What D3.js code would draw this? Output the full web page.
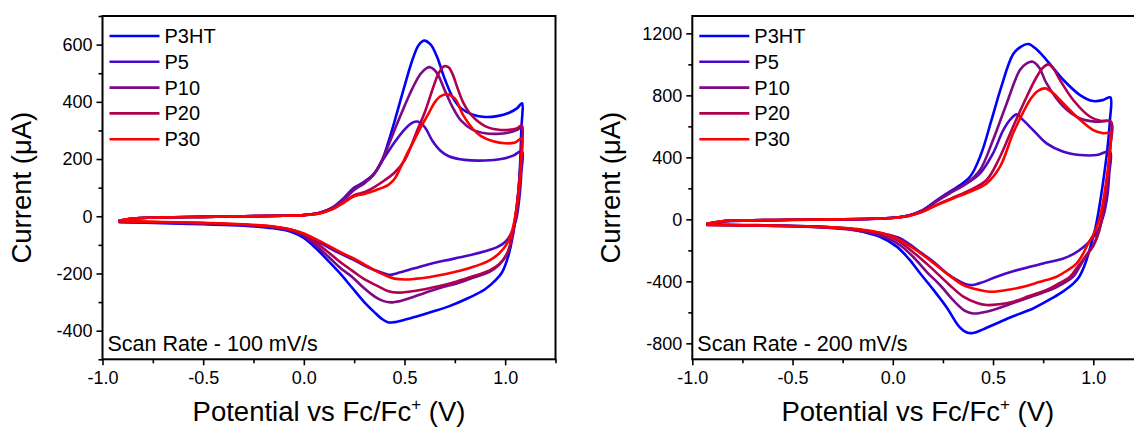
<!DOCTYPE html>
<html>
<head>
<meta charset="utf-8">
<script src="https://cdn.jsdelivr.net/npm/d3@7"></script>
<style>
  html, body { margin: 0; padding: 0; background: #ffffff; }
  svg { display: block; }
  text { font-family: "Liberation Sans", Arial, sans-serif; fill: #000; }
</style>
</head>
<body>
<svg id="chart" width="1134" height="428"></svg>
<script>
// ---------------- DATA ----------------
const seriesNames = ["P3HT", "P5", "P10", "P20", "P30"];
const scanRates = ["Scan Rate - 100 mV/s", "Scan Rate - 200 mV/s"];
const xTicks = [-1.0, -0.5, 0.0, 0.5, 1.0];
const yTicks100 = [-400, -200, 0, 200, 400, 600];
const yTicks200 = [-800, -400, 0, 400, 800, 1200];

// Scan rate 100 mV/s : [potential V, current uA], forward then reverse
const p3ht100 = [[-0.92,-18],[-0.85,-8],[-0.7,-4],[-0.5,-2],[-0.3,0],[-0.1,2],[0.0,4],[0.08,12],[0.14,28],[0.2,60],[0.25,95],[0.3,120],[0.34,140],[0.385,190],[0.42,260],[0.46,355],[0.5,455],[0.54,548],[0.57,598],[0.597,614],[0.63,600],[0.66,560],[0.7,480],[0.74,415],[0.78,378],[0.84,355],[0.9,347],[0.96,350],[1.02,362],[1.06,378],[1.083,395],
  [1.08,300],[1.072,150],[1.06,40],[1.04,-60],[1.015,-140],[0.985,-195],[0.95,-225],[0.9,-255],[0.82,-285],[0.72,-315],[0.64,-333],[0.56,-350],[0.5,-362],[0.45,-370],[0.42,-371],[0.39,-360],[0.35,-335],[0.3,-300],[0.24,-250],[0.18,-200],[0.12,-155],[0.06,-112],[0.0,-76],[-0.06,-55],[-0.15,-42],[-0.3,-33],[-0.5,-28],[-0.7,-24],[-0.92,-21]];
const p5_100 = [[-0.92,-17],[-0.85,-8],[-0.7,-4],[-0.5,-2],[-0.3,0],[-0.1,2],[0.0,4],[0.08,12],[0.14,30],[0.2,65],[0.25,100],[0.3,120],[0.35,150],[0.4,205],[0.45,258],[0.5,303],[0.54,327],[0.565,331],[0.6,312],[0.64,262],[0.68,228],[0.72,210],[0.8,197],[0.9,195],[0.98,200],[1.04,212],[1.083,228],
  [1.08,150],[1.07,60],[1.055,-10],[1.03,-60],[1.0,-90],[0.96,-108],[0.9,-122],[0.8,-140],[0.7,-155],[0.6,-172],[0.52,-188],[0.46,-200],[0.43,-205],[0.4,-200],[0.35,-188],[0.3,-172],[0.24,-150],[0.18,-130],[0.12,-108],[0.06,-85],[0.0,-64],[-0.06,-48],[-0.15,-38],[-0.3,-30],[-0.5,-25],[-0.7,-22],[-0.92,-19]];
const p10_100 = [[-0.92,-17],[-0.85,-8],[-0.7,-4],[-0.5,-2],[-0.3,0],[-0.1,2],[0.0,4],[0.08,12],[0.14,28],[0.2,60],[0.25,92],[0.3,115],[0.34,140],[0.38,185],[0.42,248],[0.46,318],[0.5,385],[0.54,448],[0.58,498],[0.61,518],[0.627,521],[0.66,502],[0.7,440],[0.74,380],[0.78,335],[0.84,302],[0.9,290],[0.96,288],[1.02,293],[1.06,302],[1.083,312],
  [1.08,230],[1.07,120],[1.055,20],[1.035,-70],[1.01,-130],[0.97,-170],[0.92,-195],[0.84,-215],[0.76,-235],[0.68,-250],[0.6,-268],[0.54,-283],[0.48,-296],[0.43,-301],[0.39,-295],[0.35,-280],[0.3,-252],[0.24,-212],[0.18,-180],[0.12,-140],[0.06,-102],[0.0,-68],[-0.06,-50],[-0.15,-38],[-0.3,-30],[-0.5,-25],[-0.7,-22],[-0.92,-19]];
const p20_100 = [[-0.92,-16],[-0.85,-8],[-0.7,-4],[-0.5,-2],[-0.3,0],[-0.1,2],[0.0,4],[0.08,11],[0.14,25],[0.2,50],[0.25,74],[0.3,84],[0.35,102],[0.4,125],[0.45,152],[0.5,195],[0.53,240],[0.56,295],[0.6,362],[0.64,445],[0.67,500],[0.697,524],[0.72,520],[0.74,495],[0.76,455],[0.79,400],[0.83,355],[0.9,315],[0.96,303],[1.02,302],[1.06,308],[1.083,318],
  [1.08,230],[1.07,120],[1.055,20],[1.035,-70],[1.01,-130],[0.97,-168],[0.92,-190],[0.84,-210],[0.76,-228],[0.68,-243],[0.6,-255],[0.52,-264],[0.47,-267],[0.42,-262],[0.37,-245],[0.3,-220],[0.24,-190],[0.18,-160],[0.12,-125],[0.06,-92],[0.0,-63],[-0.06,-48],[-0.15,-37],[-0.3,-29],[-0.5,-24],[-0.7,-21],[-0.92,-18]];
const p30_100 = [[-0.92,-16],[-0.85,-8],[-0.7,-4],[-0.5,-2],[-0.3,0],[-0.1,2],[0.0,4],[0.08,10],[0.14,24],[0.2,48],[0.25,70],[0.3,78],[0.36,92],[0.42,110],[0.45,130],[0.48,170],[0.51,215],[0.54,255],[0.58,310],[0.62,360],[0.65,398],[0.68,420],[0.715,426],[0.75,412],[0.79,355],[0.84,305],[0.88,280],[0.94,262],[1.0,255],[1.05,258],[1.083,272],
  [1.08,200],[1.07,100],[1.055,20],[1.035,-50],[1.01,-95],[0.97,-130],[0.92,-155],[0.85,-175],[0.78,-190],[0.7,-203],[0.62,-213],[0.55,-219],[0.5,-221],[0.45,-218],[0.4,-205],[0.35,-188],[0.3,-168],[0.24,-145],[0.18,-125],[0.12,-102],[0.06,-80],[0.0,-60],[-0.06,-47],[-0.15,-36],[-0.3,-28],[-0.5,-23],[-0.7,-20],[-0.92,-17]];

// Scan rate 200 mV/s
const p3ht200 = [[-0.93,-35],[-0.85,-15],[-0.7,-8],[-0.5,-4],[-0.3,-1],[-0.1,3],[0.0,10],[0.08,25],[0.15,60],[0.22,120],[0.3,190],[0.385,275],[0.44,420],[0.49,630],[0.54,850],[0.6,1065],[0.64,1115],[0.676,1131],[0.71,1105],[0.767,1028],[0.851,899],[0.934,802],[1.0,763],[1.05,770],[1.085,787],
  [1.083,640],[1.07,450],[1.05,250],[1.03,80],[1.01,-60],[0.985,-180],[0.96,-285],[0.93,-370],[0.9,-415],[0.85,-465],[0.8,-505],[0.7,-575],[0.6,-625],[0.52,-670],[0.45,-710],[0.4,-733],[0.37,-730],[0.33,-690],[0.27,-570],[0.2,-450],[0.136,-348],[0.08,-255],[0.02,-176],[-0.064,-112],[-0.15,-80],[-0.23,-60],[-0.4,-45],[-0.56,-40],[-0.75,-36],[-0.93,-33]];
const p5_200 = [[-0.93,-30],[-0.85,-12],[-0.7,-6],[-0.5,-3],[-0.3,0],[-0.1,4],[0.0,10],[0.08,25],[0.15,60],[0.22,125],[0.3,190],[0.368,232],[0.435,297],[0.5,426],[0.551,576],[0.59,650],[0.618,677],[0.65,640],[0.7,576],[0.767,490],[0.851,436],[0.934,415],[1.017,415],[1.083,437],
  [1.08,300],[1.07,150],[1.05,20],[1.02,-80],[0.99,-130],[0.95,-180],[0.9,-225],[0.851,-252],[0.75,-285],[0.684,-306],[0.6,-335],[0.518,-370],[0.45,-405],[0.4,-424],[0.37,-420],[0.32,-390],[0.269,-348],[0.2,-270],[0.14,-215],[0.1,-176],[0.04,-125],[-0.02,-100],[-0.1,-80],[-0.2,-62],[-0.35,-50],[-0.55,-42],[-0.75,-38],[-0.93,-35]];
const p10_200 = [[-0.93,-30],[-0.85,-12],[-0.7,-6],[-0.5,-3],[-0.3,0],[-0.1,4],[0.0,10],[0.08,25],[0.15,58],[0.22,118],[0.3,180],[0.368,232],[0.435,318],[0.5,512],[0.568,748],[0.634,963],[0.67,1008],[0.698,1017],[0.73,980],[0.767,877],[0.851,727],[0.934,651],[1.017,630],[1.087,630],
  [1.083,450],[1.07,250],[1.05,60],[1.03,-70],[1.0,-170],[0.967,-230],[0.93,-310],[0.9,-370],[0.82,-435],[0.7,-495],[0.6,-540],[0.5,-585],[0.44,-603],[0.4,-607],[0.36,-590],[0.3,-520],[0.24,-430],[0.17,-340],[0.1,-240],[0.04,-170],[-0.02,-125],[-0.1,-90],[-0.2,-68],[-0.35,-52],[-0.55,-43],[-0.75,-39],[-0.93,-36]];
const p20_200 = [[-0.93,-30],[-0.85,-12],[-0.7,-6],[-0.5,-3],[-0.3,0],[-0.1,4],[0.0,9],[0.08,22],[0.15,50],[0.22,95],[0.3,140],[0.385,189],[0.468,254],[0.535,404],[0.6,598],[0.668,791],[0.718,920],[0.75,980],[0.776,1000],[0.8,975],[0.834,899],[0.9,770],[0.984,662],[1.04,635],[1.087,630],
  [1.083,450],[1.07,250],[1.05,60],[1.03,-70],[1.0,-170],[0.96,-241],[0.92,-310],[0.884,-370],[0.82,-420],[0.767,-456],[0.68,-495],[0.601,-531],[0.53,-548],[0.468,-553],[0.42,-540],[0.352,-499],[0.28,-420],[0.185,-305],[0.1,-210],[0.019,-133],[-0.05,-95],[-0.15,-70],[-0.3,-55],[-0.5,-45],[-0.75,-39],[-0.93,-36]];
const p30_200 = [[-0.93,-30],[-0.85,-12],[-0.7,-6],[-0.5,-3],[-0.3,0],[-0.1,4],[0.0,9],[0.08,22],[0.15,50],[0.22,92],[0.3,135],[0.385,178],[0.468,232],[0.535,340],[0.6,555],[0.65,690],[0.684,770],[0.72,825],[0.759,845],[0.8,815],[0.834,770],[0.917,662],[1.0,576],[1.05,556],[1.083,555],
  [1.08,400],[1.065,250],[1.05,120],[1.03,0],[1.0,-100],[0.975,-155],[0.95,-220],[0.917,-284],[0.87,-330],[0.817,-370],[0.73,-405],[0.651,-435],[0.56,-458],[0.485,-467],[0.43,-455],[0.352,-424],[0.27,-350],[0.185,-263],[0.1,-185],[0.019,-123],[-0.05,-90],[-0.15,-67],[-0.3,-52],[-0.5,-43],[-0.75,-38],[-0.93,-35]];

const data100 = [p3ht100, p5_100, p10_100, p20_100, p30_100];
const data200 = [p3ht200, p5_200, p10_200, p20_200, p30_200];

// ---------------- STYLE ----------------
const colors = ["#0000ff", "#4a08c8", "#7d0a85", "#b0004e", "#ff0000"];
const FONT = '"Liberation Sans", Arial, sans-serif';

const panels = [
  { left: 102.5, right: 555.5, xDomain: [-1.0, 1.25], yDomain: [-500, 700], yTicks: yTicks100, yMinor: d3.range(-500, 701, 100), data: data100, label: scanRates[0] },
  { left: 692.3, right: 1143.4, xDomain: [-1.0, 1.25], yDomain: [-903, 1312], yTicks: yTicks200, yMinor: d3.range(-800, 1301, 200), data: data200, label: scanRates[1] }
];
const TOP = 16, BOTTOM = 359.3;
const hyphen = s => s.replace("\u2212", "-");
const fmtX = v => hyphen(d3.format(".1f")(v));
const fmtY = v => hyphen(d3.format("d")(v));

const svg = d3.select("#chart");

panels.forEach(p => {
  const x = d3.scaleLinear().domain(p.xDomain).range([p.left, p.right]);
  const y = d3.scaleLinear().domain(p.yDomain).range([BOTTOM, TOP]);
  const g = svg.append("g");

  // minor ticks
  const xMinor = d3.range(-1.0, 1.26, 0.25).filter(v => !xTicks.some(t => Math.abs(t - v) < 1e-6));
  g.append("g").attr("transform", `translate(0,${BOTTOM})`)
    .call(d3.axisBottom(x).tickValues(xMinor).tickSize(4).tickFormat(""))
    .call(a => a.select(".domain").remove())
    .call(a => a.selectAll("line").attr("stroke", "#000").attr("stroke-width", 1.6));
  const yMinor = p.yMinor.filter(v => !p.yTicks.includes(v));
  g.append("g").attr("transform", `translate(${p.left},0)`)
    .call(d3.axisLeft(y).tickValues(yMinor).tickSize(4).tickFormat(""))
    .call(a => a.select(".domain").remove())
    .call(a => a.selectAll("line").attr("stroke", "#000").attr("stroke-width", 1.6));

  // major x axis
  g.append("g").attr("transform", `translate(0,${BOTTOM})`)
    .call(d3.axisBottom(x).tickValues(xTicks).tickSize(6).tickPadding(6).tickFormat(fmtX))
    .call(a => a.select(".domain").remove())
    .call(a => a.selectAll("line").attr("stroke", "#000").attr("stroke-width", 1.6))
    .call(a => a.selectAll("text").attr("font-size", 18).attr("font-family", FONT).attr("fill", "#000"));
  // major y axis
  g.append("g").attr("transform", `translate(${p.left},0)`)
    .call(d3.axisLeft(y).tickValues(p.yTicks).tickSize(6).tickPadding(4).tickFormat(fmtY))
    .call(a => a.select(".domain").remove())
    .call(a => a.selectAll("line").attr("stroke", "#000").attr("stroke-width", 1.6))
    .call(a => a.selectAll("text").attr("font-size", 18).attr("font-family", FONT).attr("fill", "#000"));

  // clip
  const cid = "clip" + Math.round(p.left);
  svg.append("defs").append("clipPath").attr("id", cid)
    .append("rect").attr("x", p.left).attr("y", TOP).attr("width", p.right - p.left).attr("height", BOTTOM - TOP);

  // curves
  const line = d3.line().x(d => x(d[0])).y(d => y(d[1])).curve(d3.curveCatmullRom.alpha(0.5));
  g.append("g").attr("clip-path", `url(#${cid})`)
    .selectAll("path").data(p.data).join("path")
    .attr("d", line)
    .attr("fill", "none")
    .attr("stroke", (d, i) => colors[i])
    .attr("stroke-width", 2.6)
    .attr("stroke-linejoin", "round");

  // frame
  g.append("rect").attr("x", p.left).attr("y", TOP)
    .attr("width", p.right - p.left).attr("height", BOTTOM - TOP)
    .attr("fill", "none").attr("stroke", "#000").attr("stroke-width", 2);

  // legend
  const lg = g.append("g");
  seriesNames.forEach((name, i) => {
    const ly = 36 + i * 25.8;
    lg.append("line").attr("x1", p.left + 7).attr("x2", p.left + 57)
      .attr("y1", ly).attr("y2", ly).attr("stroke", colors[i]).attr("stroke-width", 2.6);
    lg.append("text").attr("x", p.left + 62).attr("y", ly).attr("dy", "0.35em")
      .attr("font-size", 20).attr("font-family", FONT).text(name);
  });

  // scan rate label
  g.append("text").attr("x", p.left + 5).attr("y", BOTTOM - 8)
    .attr("font-size", 21.5).attr("font-family", FONT).text(p.label);

  // axis titles
  const cx = (p.left + p.right) / 2;
  const xt = g.append("text").attr("x", cx).attr("y", 421).attr("text-anchor", "middle")
    .attr("font-size", 27.5).attr("font-family", FONT);
  xt.append("tspan").text("Potential vs Fc/Fc");
  xt.append("tspan").attr("font-size", 17).attr("dy", -11).text("+");
  xt.append("tspan").attr("dy", 11).text(" (V)");

  g.append("text").attr("transform", `translate(${p.left - 72},${(TOP + BOTTOM) / 2}) rotate(-90)`)
    .attr("text-anchor", "middle").attr("font-size", 27.5).attr("font-family", FONT)
    .text("Current (\u03bcA)");
});
</script>
</body>
</html>
